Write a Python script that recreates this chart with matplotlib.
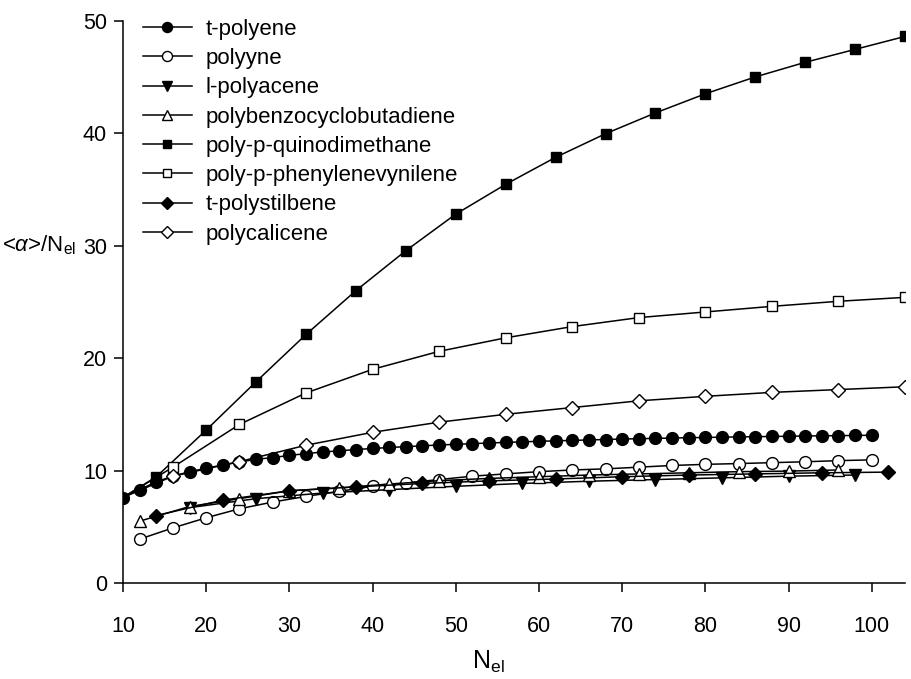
import matplotlib
matplotlib.use("Agg")
import matplotlib.pyplot as plt

plt.rcParams['font.family'] = ['Liberation Sans', 'DejaVu Sans']
plt.rcParams['mathtext.fontset'] = 'custom'
plt.rcParams['mathtext.rm'] = 'Liberation Sans'
plt.rcParams['mathtext.it'] = 'Liberation Sans:italic'

# ---- data: number of electrons N_el vs <alpha>/N_el ----
x_tpolyene = list(range(10, 101, 2))
y_tpolyene = [7.6, 8.3, 9.0, 9.5, 9.9, 10.2, 10.5, 10.75, 11.0, 11.15,
              11.35, 11.5, 11.65, 11.75, 11.87, 11.96, 12.05, 12.12, 12.2, 12.27,
              12.33, 12.39, 12.45, 12.5, 12.55, 12.6, 12.64, 12.68, 12.72, 12.76,
              12.8, 12.83, 12.86, 12.89, 12.92, 12.94, 12.97, 12.99, 13.01, 13.03,
              13.05, 13.07, 13.09, 13.1, 13.12, 13.14]

x_polyyne = list(range(12, 101, 4))
y_polyyne = [3.9, 4.9, 5.8, 6.6, 7.2, 7.7, 8.15, 8.6, 8.9, 9.2, 9.5, 9.7,
             9.9, 10.05, 10.15, 10.3, 10.45, 10.55, 10.62, 10.7, 10.78, 10.88, 10.95]

x_polyacene = list(range(18, 99, 8))
y_polyacene = [6.7, 7.5, 8.0, 8.3, 8.6, 8.85, 9.05, 9.2, 9.35, 9.5, 9.6]

x_pbcb = list(range(12, 97, 6))
y_pbcb = [5.5, 6.8, 7.5, 8.2, 8.45, 8.8, 9.1, 9.3, 9.45, 9.6, 9.7, 9.8,
          9.9, 9.95, 10.05]

x_pqdm = list(range(8, 105, 6))
y_pqdm = [6.7, 9.44, 13.6, 17.9, 22.1, 26.0, 29.55, 32.8, 35.45, 37.85,
          39.95, 41.8, 43.5, 45.0, 46.3, 47.45, 48.6]

x_ppv = list(range(8, 105, 8))
y_ppv = [6.7, 10.3, 14.1, 16.9, 19.0, 20.6, 21.8, 22.8, 23.6, 24.1,
         24.6, 25.05, 25.4]

x_tpsb = list(range(14, 103, 8))
y_tpsb = [6.0, 7.37, 8.2, 8.55, 8.85, 9.08, 9.25, 9.45, 9.6, 9.7, 9.8, 9.86]

x_pcal = list(range(8, 105, 8))
y_pcal = [6.97, 9.5, 10.8, 12.25, 13.4, 14.3, 15.0, 15.6, 16.2, 16.6,
          16.95, 17.2, 17.45]

series = [
    ("t-polyene", x_tpolyene, y_tpolyene, 'o', 'black', 8.5),
    ("polyyne", x_polyyne, y_polyyne, 'o', 'white', 8.5),
    ("l-polyacene", x_polyacene, y_polyacene, 'v', 'black', 8.5),
    ("polybenzocyclobutadiene", x_pbcb, y_pbcb, '^', 'white', 8.5),
    ("poly-p-quinodimethane", x_pqdm, y_pqdm, 's', 'black', 7.5),
    ("poly-p-phenylenevynilene", x_ppv, y_ppv, 's', 'white', 7.5),
    ("t-polystilbene", x_tpsb, y_tpsb, 'D', 'black', 7.5),
    ("polycalicene", x_pcal, y_pcal, 'D', 'white', 7.5),
]

fig = plt.figure(figsize=(9.11, 6.79), dpi=100)
ax = fig.add_axes([123 / 911, 1 - 583 / 679, (905 - 123) / 911, (583 - 20.7) / 679])

for label, xs, ys, mk, fc, ms in series:
    ax.plot(xs, ys, color='black', linewidth=1.1, marker=mk, markersize=ms,
            markerfacecolor=fc, markeredgecolor='black', markeredgewidth=1.0,
            label=label)

ax.set_xlim(10, 104)
ax.set_ylim(0, 50)
ax.set_xticks(range(10, 101, 10))
ax.set_yticks(range(0, 51, 10))

for side in ('top', 'right'):
    ax.spines[side].set_visible(False)
for side in ('left', 'bottom'):
    ax.spines[side].set_linewidth(1.1)
ax.tick_params(direction='out', length=6.5, width=1.1, labelsize=15.5)
ax.tick_params(axis='x', pad=17)
ax.tick_params(axis='y', pad=5)

fig.text(488 / 911, 1 - 662 / 679, r'N$_{\mathrm{el}}$', ha='center', va='center',
         fontsize=18)
fig.text(2 / 911, 1 - 245 / 679, r'<$\alpha$>/N$_{\mathrm{el}}$', ha='left',
         va='center', fontsize=16)

handles, labels = ax.get_legend_handles_labels()
leg = ax.legend(handles, labels, loc='upper left',
                bbox_to_anchor=(143 / 911, 1 - 19 / 679),
                bbox_transform=fig.transFigure, frameon=False, fontsize=16,
                handlelength=2.2, handletextpad=0.6, labelspacing=0.37,
                markerscale=0.85, borderaxespad=0, borderpad=0)

fig.savefig("out.png", dpi=100)
